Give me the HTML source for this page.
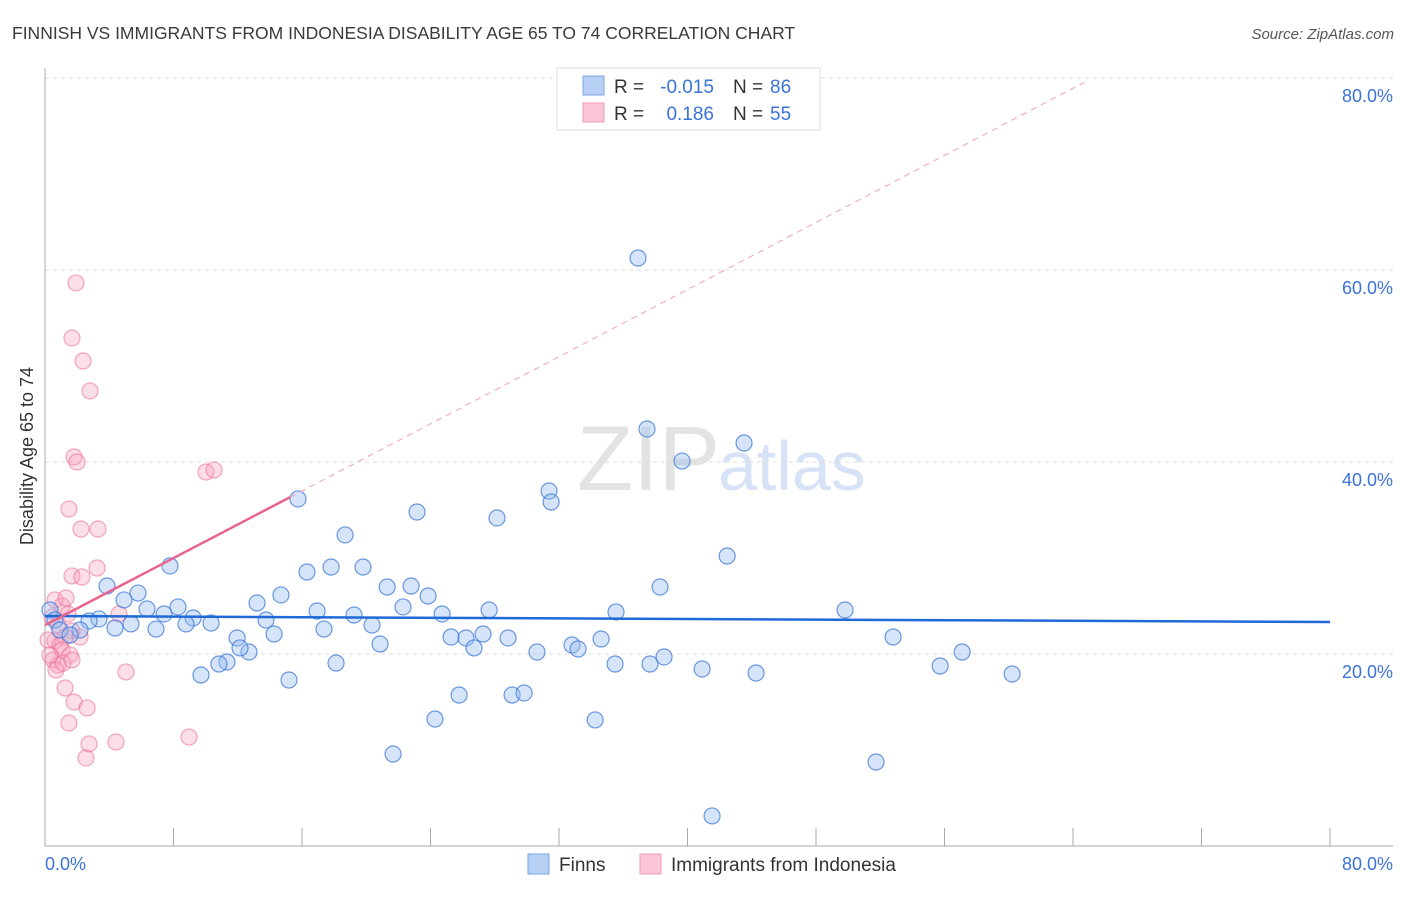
<!DOCTYPE html>
<html><head><meta charset="utf-8"><style>
body{margin:0;background:#fff;font-family:"Liberation Sans",sans-serif;}
svg text{font-family:"Liberation Sans",sans-serif;}
</style></head><body>
<svg id="chart" width="1406" height="892" xmlns="http://www.w3.org/2000/svg">
<text x="12" y="39" font-size="17.5" fill="#3a3a3a">FINNISH VS IMMIGRANTS FROM INDONESIA DISABILITY AGE 65 TO 74 CORRELATION CHART</text>
<text x="1394" y="39" font-size="15" fill="#555" text-anchor="end" font-style="italic">Source: ZipAtlas.com</text>
<text x="720" y="490" font-size="92" fill="#e3e3e3" text-anchor="end" font-family="Liberation Serif">ZIP</text>
<text x="718" y="490" font-size="70" fill="#d6e2f5">atlas</text>
<g id="grid"></g>
<g id="axes"></g>
<g id="marks"></g>
<text transform="translate(33,456) rotate(-90)" font-size="18" fill="#333" text-anchor="middle">Disability Age 65 to 74</text>
<g>
<rect x="557" y="68" width="263" height="62" fill="#fff" stroke="#ddd"/>
<rect x="583" y="76" width="21" height="19" fill="#b8d0f4" stroke="#7fa6e6"/>
<rect x="583" y="103" width="21" height="19" fill="#fbc7d6" stroke="#f199b3"/>
<text x="614" y="93" font-size="19" fill="#333">R =</text>
<text x="714" y="93" font-size="19" fill="#3b73d9" text-anchor="end">-0.015</text>
<text x="733" y="93" font-size="19" fill="#333">N =</text>
<text x="770" y="93" font-size="19" fill="#3b73d9">86</text>
<text x="614" y="120" font-size="19" fill="#333">R =</text>
<text x="714" y="120" font-size="19" fill="#3b73d9" text-anchor="end">0.186</text>
<text x="733" y="120" font-size="19" fill="#333">N =</text>
<text x="770" y="120" font-size="19" fill="#3b73d9">55</text>
</g>
<g>
<rect x="528" y="854" width="21" height="20" fill="#b8d0f4" stroke="#7fa6e6"/>
<text x="559" y="871" font-size="19" fill="#333">Finns</text>
<rect x="640" y="854" width="21" height="20" fill="#fbc7d6" stroke="#f199b3"/>
<text x="671" y="871" font-size="19" fill="#333">Immigrants from Indonesia</text>
</g>
</svg>
<script>
const yTicks=[20,40,60,80];
const yTickLabels=["20.0%","40.0%","60.0%","80.0%"];
const xTickLabels=["0.0%","80.0%"];
const finnsX=[15.75,36.92,37.48,43.52,39.66,31.38,31.51,23.16,28.14,18.68,42.47,7.78,16.31,17.81,19.80,3.86,5.79,21.30,22.79,23.85,38.29,4.92,13.20,14.69,22.29,8.28,6.35,16.94,19.24,24.72,27.65,35.55,49.81,7.41,9.22,3.36,2.74,8.78,10.34,13.76,5.35,4.36,6.91,17.37,20.36,2.18,11.96,14.26,25.28,26.21,27.27,28.83,52.80,32.81,34.62,20.86,26.71,33.19,12.70,12.14,30.63,57.10,11.33,10.83,18.12,35.49,37.67,38.54,55.73,40.91,44.27,60.21,9.71,15.19,25.78,29.08,29.83,24.28,34.25,21.67,51.74,41.53,0.31,0.62,0.93,1.56];
const finnsY=[36.15,61.25,43.44,41.98,40.10,36.98,35.83,34.79,34.17,32.40,30.21,29.17,28.54,29.06,29.06,27.08,26.35,26.98,27.08,26.04,26.98,25.63,25.31,26.15,24.90,24.90,24.69,24.48,24.06,24.17,24.58,24.38,24.58,24.17,23.75,23.65,23.44,23.13,23.23,23.54,23.13,22.71,22.60,22.60,23.02,22.50,21.67,22.08,21.77,21.67,22.08,21.67,21.77,20.94,21.56,21.04,20.63,20.52,20.21,20.63,20.21,20.21,19.17,18.96,19.06,18.96,18.96,19.69,18.75,18.44,18.02,17.92,17.81,17.29,15.73,15.73,15.94,13.23,13.13,9.58,8.75,3.13,24.58,23.54,22.50,21.98];
const indoX=[1.93,1.68,2.37,2.80,1.81,1.99,10.02,10.52,1.49,2.24,3.30,1.68,2.30,3.24,1.06,1.43,0.44,0.81,1.68,1.25,2.18,0.62,0.93,1.06,1.56,0.50,0.81,0.68,1.12,1.68,4.61,5.04,1.25,1.81,2.62,1.49,2.74,4.42,2.55,8.97,0.31,0.19,0.62,1.31];
const indoY=[58.65,52.92,50.52,47.40,40.52,40.00,38.96,39.17,35.10,33.02,33.02,28.13,28.02,28.96,25.00,24.17,23.85,23.02,22.40,21.77,21.77,21.35,20.94,20.42,19.90,19.38,18.85,18.33,19.06,19.38,24.17,18.13,16.46,15.00,14.38,12.81,10.63,10.83,9.17,11.35,19.90,21.46,25.63,25.83];
const finnsTrend=[23.96,23.33]; // y at x=0 and x=80
const indoTrend=[23.0,0.874]; // intercept, slope
const NS='http://www.w3.org/2000/svg';
const X=v=>45+v*1285/80, Y=v=>846-v*9.6;
function mk(t,a,p){const e=document.createElementNS(NS,t);for(const k in a)e.setAttribute(k,a[k]);p.appendChild(e);return e;}
const grid=document.getElementById('grid'),axes=document.getElementById('axes'),marks=document.getElementById('marks');
yTicks.forEach((t,i)=>{
 const l=mk('line',{x1:45,x2:1393,y1:Y(t),y2:Y(t),stroke:'#ddd','stroke-dasharray':'4,4'},grid);
 
 
 const tx=mk('text',{x:1393,y:Y(t)+24,'font-size':18,fill:'#3b73d9','text-anchor':'end'},axes);
 tx.textContent=yTickLabels[i];
 
 
});
let a=mk('line',{x1:45,x2:45,y1:68,y2:846,stroke:'#aaa'},axes);


a=mk('line',{x1:45,x2:1393,y1:846,y2:846,stroke:'#aaa'},axes);


for(let i=1;i<=10;i++){const t=mk('line',{x1:X(i*8),x2:X(i*8),y1:828,y2:846,stroke:'#aaa'},axes);
 
 }
[[0,'start',45],[80,'end',1393]].forEach((d,i)=>{const t=mk('text',{x:d[2],y:870,'font-size':18,fill:'#3b73d9','text-anchor':d[1]},axes);t.textContent=xTickLabels[i];
 
 });
indoX.forEach((x,i)=>{const c=mk('circle',{cx:X(x),cy:Y(indoY[i]),r:8,fill:'rgba(246,160,186,0.35)',stroke:'rgba(236,110,150,0.6)','stroke-width':1.2},marks);
 
 });
finnsX.forEach((x,i)=>{const c=mk('circle',{cx:X(x),cy:Y(finnsY[i]),r:8,fill:'rgba(150,187,240,0.4)',stroke:'rgba(60,120,215,0.75)','stroke-width':1.2},marks);
 
 });
let tl=mk('line',{x1:X(0),y1:Y(finnsTrend[0]),x2:X(80),y2:Y(finnsTrend[1]),stroke:'#1f6ad6','stroke-width':2.5},marks);


tl=mk('line',{x1:X(15.25),y1:Y(indoTrend[0]+indoTrend[1]*15.25),x2:X(64.7),y2:Y(indoTrend[0]+indoTrend[1]*64.7),stroke:'#f0a0b8','stroke-width':1,'stroke-dasharray':'6,5'},marks);


tl=mk('line',{x1:X(0),y1:Y(indoTrend[0]),x2:X(15.25),y2:Y(indoTrend[0]+indoTrend[1]*15.25),stroke:'#e8648e','stroke-width':2.5},marks);


</script>
</body></html>
